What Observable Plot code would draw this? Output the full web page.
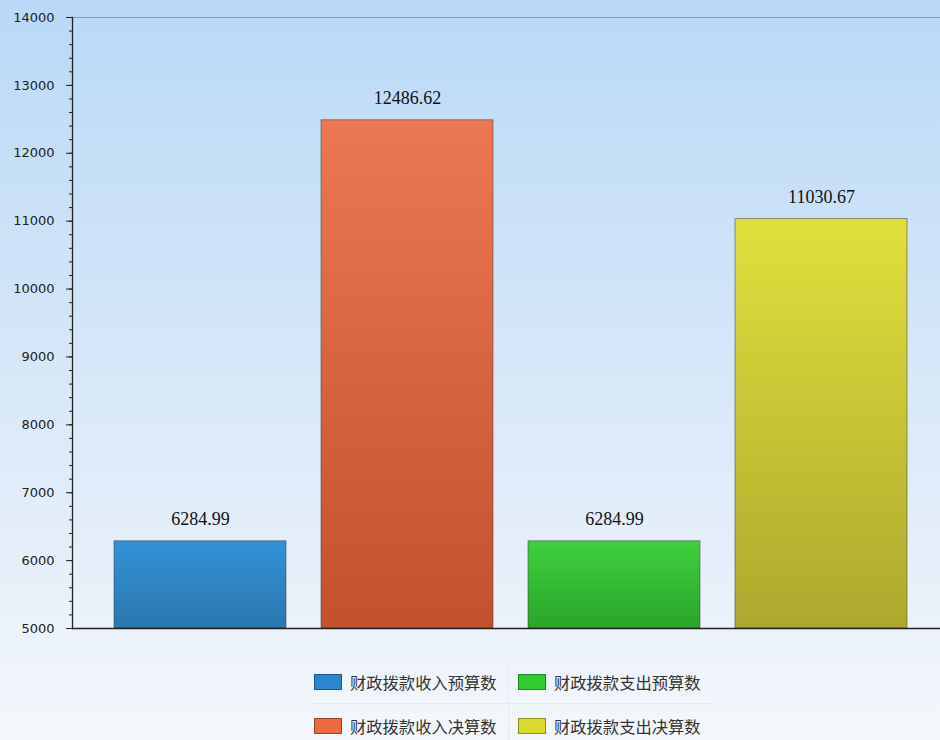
<!DOCTYPE html>
<html>
<head>
<meta charset="utf-8">
<script src="https://cdn.jsdelivr.net/npm/d3@7"></script>
<script src="https://cdn.jsdelivr.net/npm/@observablehq/plot@0.6"></script>
<style>
  html, body { margin: 0; padding: 0; }
  body {
    width: 940px; height: 740px; position: relative; overflow: hidden;
    background: linear-gradient(to bottom, #b9d9f6 0%, #d4e6f8 45%, #ebf2fa 85%, #f4f8fc 100%);
  }
  #chart { position: absolute; left: 0; top: 0; }
  #legend { position: absolute; left: 0; top: 0; width: 940px; height: 740px; pointer-events: none; }
  .lg-item { position: absolute; display: flex; align-items: center; font-family: "Noto Sans CJK SC", sans-serif; font-size: 16.3px; color: #333; }
  .lg-sw { width: 28px; height: 16px; margin-right: 8px; box-sizing: border-box; border: 1px solid rgba(0,0,0,0.35); }
  .lg-vline { position: absolute; left: 508px; top: 662px; width: 1px; height: 78px; background: #e3eaf2; }
  .lg-hline { position: absolute; left: 312px; top: 703px; width: 400px; height: 1px; background: #e3eaf2; }
</style>
</head>
<body>
<div id="chart"></div>
<div id="legend"></div>
<script>
const categories = ["财政拨款收入预算数", "财政拨款收入决算数", "财政拨款支出预算数", "财政拨款支出决算数"];
const values = [6284.99, 12486.62, 6284.99, 11030.67];
const topColors = ["#3293d8", "#ec7753", "#3fd03f", "#e0e03c"];
const bottomColors = ["#2a76ad", "#c2512d", "#2aa52a", "#aea82e"];
const legendColors = ["#2a86cf", "#ee6a3e", "#30cc30", "#dada30"];
const yTicks = [5000, 6000, 7000, 8000, 9000, 10000, 11000, 12000, 13000, 14000];

const data = categories.map((c, i) => ({cat: c, value: values[i], idx: i}));

const chart = Plot.plot({
  width: 940,
  height: 650,
  marginLeft: 72,
  marginRight: 0,
  marginTop: 17,
  marginBottom: 22,
  style: {background: "transparent", overflow: "visible"},
  x: {domain: categories, paddingInner: 0.168, paddingOuter: 0.18, align: 0.56, axis: null},
  y: {domain: [5000, 14000], axis: null},
  color: {type: "identity"},
  marks: [
    Plot.frame({anchor: "top", stroke: "#7f9dbb"}),
    Plot.barY(data, {
      x: "cat", y1: 5000, y2: "value",
      fill: d => `url(#grad${d.idx})`,
      stroke: "#3a3a3a", strokeOpacity: 0.5, strokeWidth: 1
    }),
    Plot.text(data, {
      x: "cat", y: "value", text: d => d.value.toFixed(2),
      dy: -22, fontFamily: "Liberation Serif, Times New Roman, serif", fontSize: 18, fill: "#111"
    }),
    Plot.axisY({ticks: d3.range(5000, 14001, 200), tickSize: 3, text: null, label: null, stroke: "#222"}),
    Plot.axisY({ticks: yTicks, tickSize: 6, tickPadding: 12, tickFormat: d => String(d), label: null,
      fontFamily: "DejaVu Sans, sans-serif", fontSize: 13, fill: "#222", stroke: "#222"}),
    Plot.frame({anchor: "left", stroke: "#222", strokeWidth: 1.3}),
    Plot.ruleY([5000], {stroke: "#222", strokeWidth: 1.3})
  ]
});

// gradient defs
const ns = "http://www.w3.org/2000/svg";
const defs = document.createElementNS(ns, "defs");
categories.forEach((c, i) => {
  const lg = document.createElementNS(ns, "linearGradient");
  lg.setAttribute("id", `grad${i}`);
  lg.setAttribute("x1", "0"); lg.setAttribute("y1", "0");
  lg.setAttribute("x2", "0"); lg.setAttribute("y2", "1");
  [[0, topColors[i]], [1, bottomColors[i]]].forEach(([o, col]) => {
    const s = document.createElementNS(ns, "stop");
    s.setAttribute("offset", o);
    s.setAttribute("stop-color", col);
    lg.appendChild(s);
  });
  defs.appendChild(lg);
});
chart.insertBefore(defs, chart.firstChild);
document.getElementById("chart").appendChild(chart);

// legend
const legend = document.getElementById("legend");
const pos = [[314, 682], [314, 726], [518, 682], [518, 726]];
const vline = document.createElement("div"); vline.className = "lg-vline"; legend.appendChild(vline);
const hline = document.createElement("div"); hline.className = "lg-hline"; legend.appendChild(hline);
categories.forEach((c, i) => {
  const item = document.createElement("div");
  item.className = "lg-item";
  item.style.left = pos[i][0] + "px";
  item.style.top = (pos[i][1] - 12) + "px";
  item.style.height = "24px";
  const sw = document.createElement("span");
  sw.className = "lg-sw";
  sw.style.background = legendColors[i];
  const tx = document.createElement("span");
  tx.textContent = c;
  item.appendChild(sw); item.appendChild(tx);
  legend.appendChild(item);
});
</script>
</body>
</html>
